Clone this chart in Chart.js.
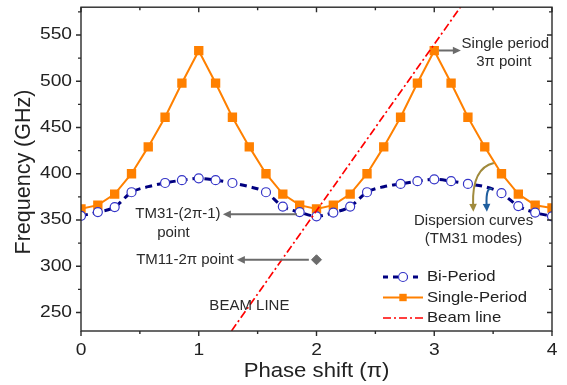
<!DOCTYPE html>
<html>
<head>
<meta charset="utf-8">
<script src="https://cdn.jsdelivr.net/npm/chart.js@4/dist/chart.umd.min.js"></script>
<style>
html,body{margin:0;padding:0;background:#fff;}
#wrap{width:567px;height:385px;}
</style>
</head>
<body>
<div id="wrap"><canvas id="c" width="567" height="385"></canvas></div>
<script>
// ---- data ----
const phase = [0, 0.143, 0.286, 0.429, 0.571, 0.714, 0.857, 1, 1.143, 1.286, 1.429, 1.571, 1.714, 1.857, 2,
               2.143, 2.286, 2.429, 2.571, 2.714, 2.857, 3, 3.143, 3.286, 3.429, 3.571, 3.714, 3.857, 4];
const singlePeriod = [362, 366, 378, 400, 429, 461, 498, 533, 498, 461, 429, 400, 378, 366, 362,
                      366, 378, 400, 429, 461, 498, 533, 498, 461, 429, 400, 378, 366, 363];
const biPeriod = [354.5, 358.5, 364, 380, 386, 390, 393, 395, 393, 390, 386, 380, 364.5, 358.5, 354,
                  358, 364.5, 380, 386, 389, 392, 394, 392, 389, 386, 379, 365, 358, 354];
const biNoMarker = [4, 10, 18, 24];       // indices drawn without a marker
const beamX = [1.2, 3.3];
const beamY = [216, 594];                 // f = 180 GHz per pi
const tm11X = [2];
const tm11Y = [307];
const xTicks = [0, 1, 2, 3, 4];
const yTicks = [250, 300, 350, 400, 450, 500, 550];
const xTitle = 'Phase shift (\u03c0)';
const yTitle = 'Frequency (GHz)';
const legendLabels = ['Bi-Period', 'Single-Period', 'Beam line'];

// annotations in data units
const texts = [
  {t: 'Single period', x: 3.604, y: 540.3},
  {t: '3\u03c0 point', x: 3.591, y: 521.1},
  {t: 'TM31-(2\u03c0-1)', x: 0.823, y: 356.1},
  {t: 'point', x: 0.785, y: 336.6},
  {t: 'TM11-2\u03c0 point', x: 0.883, y: 306.9},
  {t: 'BEAM LINE', x: 1.430, y: 257.2},
  {t: 'Dispersion curves', x: 3.334, y: 349.4},
  {t: '(TM31 modes)', x: 3.334, y: 329.3}
];
const arrows = [
  {x1: 3.039, y1: 533.2, x2: 3.226, y2: 533.2},
  {x1: 1.834, y1: 356.1, x2: 1.205, y2: 356.1},
  {x1: 1.935, y1: 306.9, x2: 1.324, y2: 306.9}
];
const curvedArrows = [
  {color: '#a08a3c', p: [[3.506, 411.7], [3.319, 406.3], [3.332, 358.8]]},
  {color: '#1f5e9e', p: [[3.489, 383.6], [3.438, 385.8], [3.447, 358.8]]}
];

const FONT = '"Liberation Sans", Arial, sans-serif';
const NAVY = '#000080', CIRC = '#3535c8', ORANGE = '#ff8000', RED = '#ff0000', GRAY = '#6b6b6b';

function txt(ctx, s, x, y, size, align, sx, color) {
  ctx.save();
  ctx.translate(x, y);
  ctx.scale(sx || 1, 1);
  ctx.font = size + 'px ' + FONT;
  ctx.textAlign = align || 'center';
  ctx.textBaseline = 'middle';
  ctx.fillStyle = color || '#222';
  ctx.fillText(s, 0, 0);
  ctx.restore();
}
function head(ctx, x, y, ang, color) {
  const L = 8, W = 3.8;
  ctx.save();
  ctx.translate(x, y); ctx.rotate(ang);
  ctx.beginPath(); ctx.moveTo(0, 0); ctx.lineTo(-L, -W); ctx.lineTo(-L, W); ctx.closePath();
  ctx.fillStyle = color; ctx.fill();
  ctx.restore();
}

const overlay = {
  id: 'overlay',
  afterDatasetsDraw(chart) {
    const ctx = chart.ctx, xs = chart.scales.x, ys = chart.scales.y;
    const X = v => xs.getPixelForValue(v), Y = v => ys.getPixelForValue(v);
    arrows.forEach(a => {
      const x1 = X(a.x1), y1 = Y(a.y1), x2 = X(a.x2), y2 = Y(a.y2);
      const ang = Math.atan2(y2 - y1, x2 - x1);
      ctx.save();
      ctx.strokeStyle = GRAY; ctx.lineWidth = 2;
      ctx.beginPath(); ctx.moveTo(x1, y1);
      ctx.lineTo(x2 - 7 * Math.cos(ang), y2 - 7 * Math.sin(ang)); ctx.stroke();
      ctx.restore();
      head(ctx, x2, y2, ang, GRAY);
    });
    curvedArrows.forEach(c => {
      const p = c.p.map(q => [X(q[0]), Y(q[1])]);
      const ang = Math.atan2(p[2][1] - p[1][1], p[2][0] - p[1][0]);
      const ex = p[2][0] - 7 * Math.cos(ang), ey = p[2][1] - 7 * Math.sin(ang);
      ctx.save();
      ctx.strokeStyle = c.color; ctx.lineWidth = 2;
      ctx.beginPath(); ctx.moveTo(p[0][0], p[0][1]);
      ctx.quadraticCurveTo(p[1][0], p[1][1], ex, ey); ctx.stroke();
      ctx.restore();
      head(ctx, p[2][0], p[2][1], ang, c.color);
    });
    texts.forEach(o => txt(ctx, o.t, X(o.x), Y(o.y), 15, 'center', 1, '#2a2a2a'));
  },
  afterDraw(chart) {
    const ctx = chart.ctx, a = chart.chartArea, xs = chart.scales.x, ys = chart.scales.y;
    ctx.save();
    ctx.strokeStyle = '#2a2a2a'; ctx.lineWidth = 1.4;
    ctx.strokeRect(a.left, a.top, a.right - a.left, a.bottom - a.top);
    ctx.beginPath();
    ys.ticks.forEach(t => {
      const p = ys.getPixelForValue(t.value);
      ctx.moveTo(a.left, p); ctx.lineTo(a.left - 5, p);
      ctx.moveTo(a.right, p); ctx.lineTo(a.right - 5, p);
    });
    for (let i = 0; i < yTicks.length; i++) {
      [yTicks[i] - 25, yTicks[i] + 25].forEach(v => {
        if (v > ys.min && v < ys.max) {
          const p = ys.getPixelForValue(v);
          ctx.moveTo(a.left, p); ctx.lineTo(a.left - 3, p);
          ctx.moveTo(a.right, p); ctx.lineTo(a.right - 3, p);
        }
      });
    }
    xs.ticks.forEach(t => {
      const p = xs.getPixelForValue(t.value);
      ctx.moveTo(p, a.bottom); ctx.lineTo(p, a.bottom + 5);
      ctx.moveTo(p, a.top); ctx.lineTo(p, a.top + 5);
    });
    for (let i = 0; i < xTicks.length - 1; i++) {
      const p = xs.getPixelForValue((xTicks[i] + xTicks[i + 1]) / 2);
      ctx.moveTo(p, a.bottom); ctx.lineTo(p, a.bottom + 3);
      ctx.moveTo(p, a.top); ctx.lineTo(p, a.top + 3);
    }
    ctx.stroke();
    ctx.restore();
    ys.ticks.forEach(t => txt(ctx, String(t.value), a.left - 9, ys.getPixelForValue(t.value), 16, 'right', 1.2, '#222'));
    xs.ticks.forEach(t => txt(ctx, String(t.value), xs.getPixelForValue(t.value), a.bottom + 20, 16, 'center', 1.2, '#222'));
    txt(ctx, xTitle, (a.left + a.right) / 2, 371, 20.5, 'center', 1.08, '#222');
    ctx.save();
    ctx.translate(24, 172); ctx.rotate(-Math.PI / 2);
    txt(ctx, yTitle, 0, 0, 21.5, 'center', 1, '#222');
    ctx.restore();
    // legend
    const rows = [277, 297.5, 318], lx0 = 383, lx1 = 423, mx = 403, tx = 427;
    ctx.save();
    ctx.strokeStyle = NAVY; ctx.lineWidth = 3; ctx.setLineDash([5, 5]);
    ctx.beginPath(); ctx.moveTo(lx0, rows[0]); ctx.lineTo(lx1 - 4, rows[0]); ctx.stroke();
    ctx.setLineDash([]);
    ctx.beginPath(); ctx.arc(mx, rows[0], 4.5, 0, Math.PI * 2);
    ctx.fillStyle = '#fff'; ctx.fill(); ctx.strokeStyle = CIRC; ctx.lineWidth = 1.2; ctx.stroke();
    ctx.strokeStyle = ORANGE; ctx.lineWidth = 2;
    ctx.beginPath(); ctx.moveTo(lx0, rows[1]); ctx.lineTo(lx1, rows[1]); ctx.stroke();
    ctx.fillStyle = ORANGE; ctx.fillRect(mx - 3.7, rows[1] - 3.7, 7.4, 7.4);
    ctx.strokeStyle = RED; ctx.lineWidth = 1.7; ctx.setLineDash([8, 3, 2, 3]);
    ctx.beginPath(); ctx.moveTo(lx0, rows[2]); ctx.lineTo(lx1, rows[2]); ctx.stroke();
    ctx.restore();
    legendLabels.forEach((l, i) => txt(ctx, l, tx, rows[i], 14.5, 'left', 1.15, '#222'));
  }
};

const xy = (xa, ya) => xa.map((x, i) => ({x: x, y: ya[i]}));

new Chart(document.getElementById('c'), {
  type: 'line',
  data: {
    datasets: [
      {label: 'Beam line', data: xy(beamX, beamY), borderColor: RED, borderWidth: 1.7,
       borderDash: [8, 3, 2, 3], pointRadius: 0, fill: false, order: 0},
      {label: 'TM11', data: xy(tm11X, tm11Y), showLine: false, pointStyle: 'rectRot',
       pointRadius: 5, pointBackgroundColor: GRAY, pointBorderColor: GRAY, order: 0},
      {label: 'Bi-Period', data: xy(phase, biPeriod), borderColor: NAVY, borderWidth: 3,
       borderDash: [7, 5], cubicInterpolationMode: 'monotone',
       pointRadius: ctx => biNoMarker.includes(ctx.dataIndex) ? 0 : 4.5,
       pointBackgroundColor: '#fff', pointBorderColor: CIRC, pointBorderWidth: 1.2, order: 1},
      {label: 'Single-Period', data: xy(phase, singlePeriod), borderColor: ORANGE, borderWidth: 2,
       pointStyle: 'rect', pointRadius: 5.2, pointBackgroundColor: ORANGE, pointBorderColor: ORANGE,
       tension: 0, order: 2}
    ]
  },
  options: {
    responsive: false,
    animation: false,
    events: [],
    layout: {padding: {left: 81, right: 15, top: 7, bottom: 54}},
    plugins: {legend: {display: false}, tooltip: {enabled: false}},
    scales: {
      x: {type: 'linear', min: 0, max: 4, display: false,
          afterBuildTicks: s => { s.ticks = xTicks.map(v => ({value: v})); }},
      y: {type: 'linear', min: 230, max: 580, display: false,
          afterBuildTicks: s => { s.ticks = yTicks.map(v => ({value: v})); }}
    }
  },
  plugins: [overlay]
});
</script>
</body>
</html>
